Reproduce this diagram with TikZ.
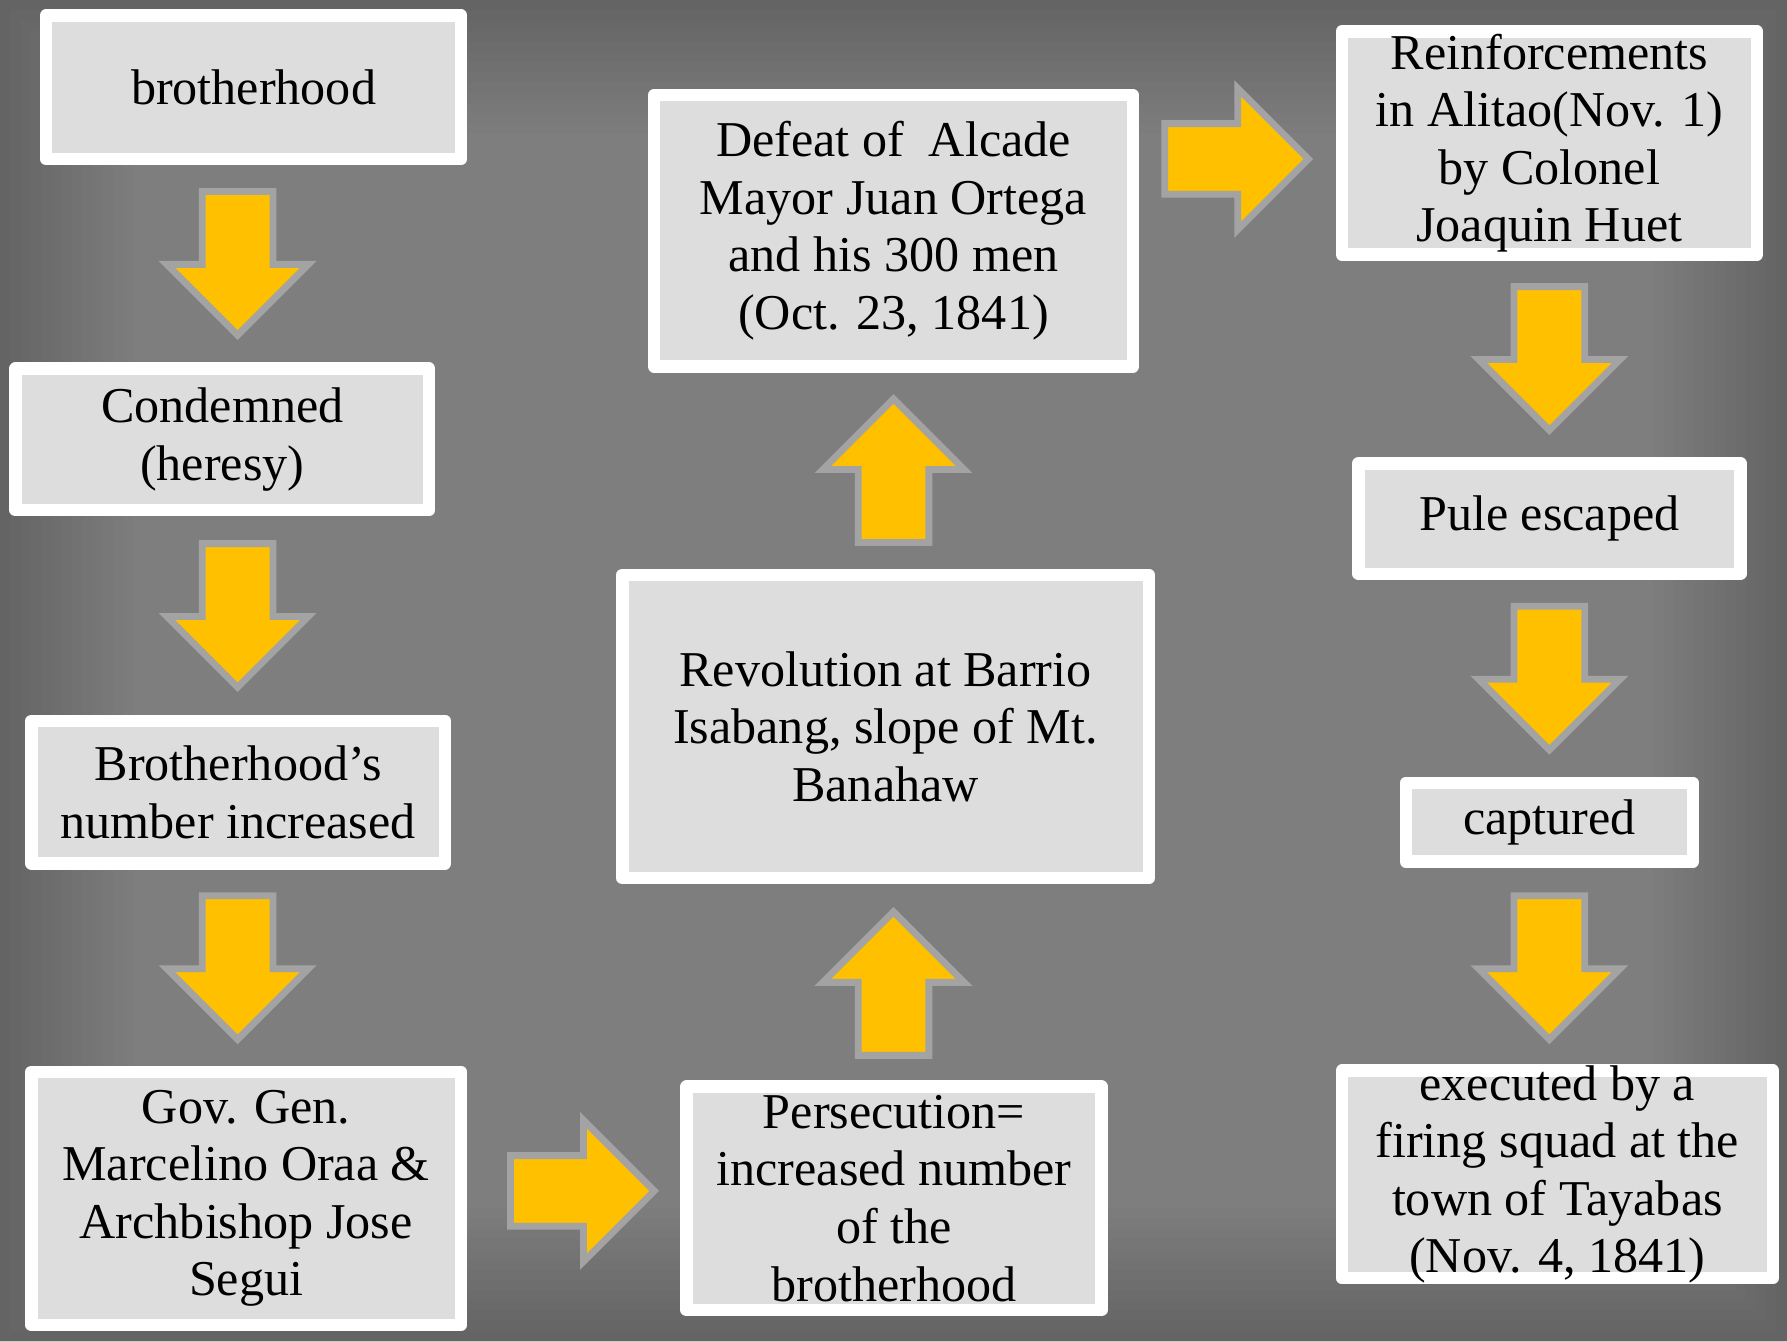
\documentclass[tikz,border=0pt]{standalone}
\usepackage{fontspec}
\setmainfont{Liberation Serif}
\usetikzlibrary{shapes.arrows}
\definecolor{bgin}{HTML}{7E7E7E}
\definecolor{boxfill}{HTML}{DDDDDD}
\definecolor{ayellow}{HTML}{FFC000}
\definecolor{agray}{HTML}{A3A3A3}
\begin{document}
\begin{tikzpicture}[x=0.5pt,y=-0.5pt,
  box/.style 2 args={draw=white, fill=boxfill, line width=5.5pt, line join=round,
    minimum width=#1*0.5pt, minimum height=#2*0.5pt, inner sep=0pt},
  txt/.style={font=\fontsize{22}{25.25}\selectfont, align=center, inner sep=0pt, text=black},
  blockarrow/.style={single arrow, draw=agray, fill=ayellow, line width=3pt,
    minimum height=63pt, single arrow head extend=15.5pt,
    single arrow tip angle=90, single arrow head indent=0pt,
    inner sep=14pt, outer sep=0pt, anchor=tail},
  arrD/.style={blockarrow, shape border rotate=270},
  arrU/.style={blockarrow, shape border rotate=90},
  arrR/.style={blockarrow, shape border rotate=0}]
\useasboundingbox (0,0) rectangle (1568,1177);
\fill[bgin] (0,0) rectangle (1568,1177);
% darker vignette towards the edges
\foreach \i in {0,...,13}{
  \fill[black, opacity=0.014, even odd rule]
    (-2,-2) rectangle (1570,1179)
    ({\i*9},{\i*9}) rectangle ({1568-\i*9},{1177-\i*9});
}

% boxes
\node[box={364}{126}] (b1) at (222.5,76.5) {};
\node[txt] (t1) at (b1) {brotherhood};
\node[box={363}{124}] (b2) at (195,385.5) {};
\node[txt] (t2) at (b2) {Condemned\\(heresy)};
\node[box={363}{125}] (b3) at (209,695) {};
\node[txt] (t3) at (b3) {Brotherhood’s\\number increased};
\node[box={377}{222}] (b4) at (216,1051.5) {};
\node[txt] (t4) at (b4) {Gov. Gen.\\Marcelino Oraa \&\\Archbishop Jose\\Segui};
\node[box={364}{196}] (b5) at (784.5,1051.5) {};
\node[txt] (t5) at (b5) {Persecution=\\increased number\\of the\\brotherhood};
\node[box={462}{266}] (b6) at (777,637.5) {};
\node[txt] (t6) at (b6) {Revolution at Barrio\\Isabang, slope of Mt.\\Banahaw};
\node[box={420}{238}] (b7) at (784,202.5) {};
\node[txt] (t7) at (b7) {Defeat of\ \ Alcade\\Mayor Juan Ortega\\and his 300 men\\(Oct. 23, 1841)};
\node[box={364}{196}] (b8) at (1359.5,125.5) {};
\node[txt] (t8) at (b8) {Reinforcements\\in Alitao(Nov. 1)\\by Colonel\\Joaquin Huet};
\node[box={335}{97}] (b9) at (1359.5,455) {};
\node[txt] (t9) at (b9) {Pule escaped};
\node[box={252}{69}] (b10) at (1359.5,721.5) {};
\node[txt] (t10) at (b10) {captured};
\node[box={378}{182}] (b11) at (1366.5,1030.5) {};
\node[txt] (t11) at (b11) {executed by a\\firing squad at the\\town of Tayabas\\(Nov. 4, 1841)};

% block arrows
\node[arrD] (a1) at (208.5,168) {};
\node[arrD] (a2) at (208.5,477) {};
\node[arrD] (a3) at (208.5,786) {};
\node[arrR] (a4) at (448,1045) {};
\node[arrU] (a5) at (784,926) {};
\node[arrU] (a6) at (784,476) {};
\node[arrR] (a7) at (1022,139.5) {};
\node[arrD] (a8) at (1359.5,251.5) {};
\node[arrD] (a9) at (1359.5,532) {};
\node[arrD] (a10) at (1359.5,786) {};
\end{tikzpicture}
\end{document}
